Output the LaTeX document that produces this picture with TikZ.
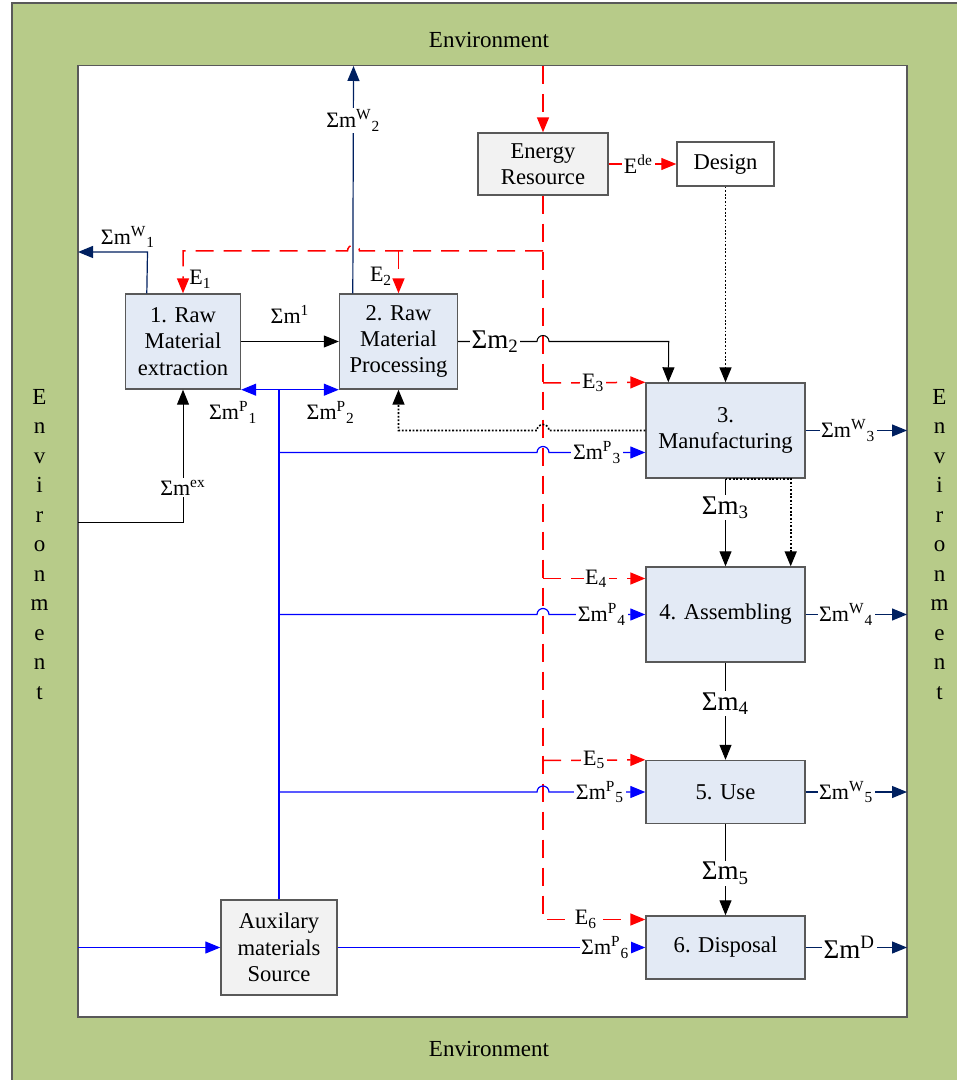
\documentclass[tikz,border=0pt]{standalone}
\usepackage{fontspec}
\setmainfont{Liberation Serif}
\usetikzlibrary{arrows.meta, calc}
\definecolor{envgreen}{HTML}{B7CB89}
\definecolor{procfill}{HTML}{E3EAF5}
\definecolor{resfill}{HTML}{F2F2F2}
\definecolor{boxline}{HTML}{595959}
\definecolor{navy}{HTML}{002060}
\definecolor{auxblue}{HTML}{0000FF}
\definecolor{enred}{HTML}{FF0000}
\tikzset{
  box/.style    ={draw=boxline, line width=0.7pt, fill=procfill, align=center,
                  inner sep=0pt, font=\fontsize{11.3}{13.2}\selectfont},
  resbox/.style ={box, fill=resfill},
  tip/.style    ={-{Triangle[length=7.5pt,width=6pt]}},
  flow/.style   ={tip, draw=black, line width=0.5pt},
  dflow/.style  ={tip, draw=black, line width=0.8pt, dash pattern=on 0.9pt off 0.9pt},
  wflow/.style  ={tip, draw=navy, line width=0.6pt},
  pflow/.style  ={tip, draw=auxblue, line width=0.6pt},
  pmain/.style  ={draw=auxblue, line width=1pt},
  eflow/.style  ={tip, draw=enred, line width=0.75pt, dash pattern=on 9pt off 5pt},
  edflow/.style ={tip, draw=enred, line width=0.6pt},
  lbl/.style    ={fill=white, inner sep=0.8pt, font=\fontsize{11}{12}\selectfont},
  biglbl/.style ={lbl, font=\fontsize{13.5}{15}\selectfont},
  envtxt/.style ={font=\fontsize{11.5}{14.75}\selectfont, align=center, inner sep=0pt}
}

\begin{document}
\begin{tikzpicture}[x=0.5pt, y=-0.5pt]
  \useasboundingbox (0,0) rectangle (957,1080);
  % environment frame
  \filldraw[fill=envgreen, draw=boxline, line width=0.6pt] (12,3) rectangle (970,1090);
  \filldraw[fill=white, draw=boxline, line width=0.7pt] (78,65.5) rectangle (907,1017);
  \node[envtxt] (envtop) at (489,40) {Environment};
  \node[envtxt] (envbot) at (489,1049) {Environment};
  \node[envtxt] (envl) at (39.5,544.5) {E\\n\\v\\i\\r\\o\\n\\m\\e\\n\\t};
  \node[envtxt] (envr) at (939.5,544.5) {E\\n\\v\\i\\r\\o\\n\\m\\e\\n\\t};

  % stages
  \node[box, minimum width=57.5pt, minimum height=47.5pt] (b1) at (183,341.5) {1. Raw\\Material\\extraction};
  \node[box, minimum width=59pt, minimum height=47.5pt] (b2) at (398.5,341.5) {2. Raw\\Material\\Processing};
  \node[box, minimum width=79.5pt, minimum height=47.5pt] (b3) at (725.5,430.5) {3.\\Manufacturing};
  \node[box, minimum width=79.5pt, minimum height=47.5pt] (b4) at (725.5,614.5) {4. Assembling};
  \node[box, minimum width=79.5pt, minimum height=31.5pt] (b5) at (725.5,792) {5. Use};
  \node[box, minimum width=79.5pt, minimum height=31.5pt] (b6) at (725.5,947.5) {6. Disposal};
  \node[resbox, minimum width=65pt, minimum height=31pt] (er) at (543,164) {Energy\\Resource};
  \node[box, fill=white, minimum width=48.5pt, minimum height=22pt] (des) at (725.5,164) {Design};
  \node[resbox, minimum width=58pt, minimum height=47.5pt] (aux) at (279,947.5) {Auxilary\\materials\\Source};

  % energy
  \draw[eflow] (543,66) -- (er.north);
  \draw[eflow] (er.south) -- (543,919.5) -- node[lbl, pos=0.42] {E\textsubscript{6}} ([yshift=14pt]b6.west);
  \draw[eflow] (543,383) -- node[lbl, pos=0.49] {E\textsubscript{3}} (b3.north west);
  \draw[eflow] (543,578.5) -- node[lbl, pos=0.52] {E\textsubscript{4}} ([yshift=18pt]b4.west);
  \draw[eflow] (543,760.5) -- node[lbl, pos=0.5] {E\textsubscript{5}} (b5.north west);
  \draw[eflow] (543,251) -- (359.5,251) arc[start angle=0, end angle=-180, radius=6]
    -- (183,251) -- node[lbl, fill=none, right=2pt, pos=0.67] {E\textsubscript{1}} (b1.north);
  \draw[eflow] (398.5,251) -- node[lbl, fill=none, left=2pt, pos=0.6] {E\textsubscript{2}} (b2.north);
  \draw[edflow] (er.east) -- node[lbl, pos=0.44] {E\textsuperscript{de}} (des.west);
  \draw[dflow] (des.south) -- (b3.north);

  % main mass flow
  \draw[flow] (b1.east) -- node[lbl, fill=none, above=8pt] {Σm\textsuperscript{1}} (b2.west);
  \draw[flow] (b2.east) -- node[biglbl, pos=0.47] {Σm\textsubscript{2}} (537,341.5)
    arc[start angle=180, end angle=360, radius=6] -- (668.75,341.5) -- ([xshift=11.5pt]b3.north west);
  \draw[flow] (b3.south) -- node[biglbl, pos=0.33] {Σm\textsubscript{3}} (b4.north);
  \draw[dflow] (b3.south) -- ([xshift=-7.5pt]b3.south east) -- ([xshift=-7.5pt]b4.north east);
  \draw[flow] (b4.south) -- node[biglbl, pos=0.42] {Σm\textsubscript{4}} (b5.north);
  \draw[flow] (b5.south) -- node[biglbl, pos=0.54] {Σm\textsubscript{5}} (b6.north);
  \draw[dflow] (b3.west) -- (549,430.5) arc[start angle=0, end angle=-180, radius=6]
    -- (398.5,430.5) -- (b2.south);
  \draw[flow] (78,522) -- (183,522) -- node[lbl, pos=0.26] {Σm\textsuperscript{ex}} (b1.south);

  % wastes
  \draw[wflow] ([xshift=11pt]b1.north west) -- (147.5,252)
    -- node[lbl, fill=none, above=1pt, pos=0.28] {Σm\textsuperscript{W}\textsubscript{1}} (78,252);
  \draw[wflow] ([xshift=7pt]b2.north west) -- node[lbl, pos=0.76] {Σm\textsuperscript{W}\textsubscript{2}} (353.5,66);
  \draw[wflow] (b3.east) -- node[lbl, pos=0.42] {Σm\textsuperscript{W}\textsubscript{3}} (907,430.5);
  \draw[wflow] (b4.east) -- node[lbl, pos=0.4] {Σm\textsuperscript{W}\textsubscript{4}} (907,614.5);
  \draw[wflow] (b5.east) -- node[lbl, pos=0.4] {Σm\textsuperscript{W}\textsubscript{5}} (907,792);
  \draw[wflow] (b6.east) -- node[biglbl, pos=0.43] {Σm\textsuperscript{D}} (907,947.5);

  % auxiliary materials
  \draw[pflow] (78,947.5) -- (aux.west);
  \draw[pflow] (aux.east) -- node[lbl, pos=0.87] {Σm\textsuperscript{P}\textsubscript{6}} (b6.west);
  \draw[pmain] (aux.north) -- (279,389);
  \draw[pflow, {Triangle[length=7.5pt,width=6pt]}-{Triangle[length=7.5pt,width=6pt]}]
    (b1.south east) -- node[lbl, fill=none, at start, below=5pt, xshift=-4pt] {Σm\textsuperscript{P}\textsubscript{1}}
    node[lbl, fill=none, at end, below=5pt, xshift=-4pt] {Σm\textsuperscript{P}\textsubscript{2}} (b2.south west);
  \draw[pflow] (279,452.5) -- (537,452.5) arc[start angle=180, end angle=360, radius=6]
    -- node[lbl, pos=0.5] {Σm\textsuperscript{P}\textsubscript{3}} ([yshift=-11pt]b3.west);
  \draw[pflow] (279,614.5) -- (537,614.5) arc[start angle=180, end angle=360, radius=6]
    -- node[lbl, pos=0.55] {Σm\textsuperscript{P}\textsubscript{4}} (b4.west);
  \draw[pflow] (279,792) -- (537,792) arc[start angle=180, end angle=360, radius=6]
    -- node[lbl, pos=0.53] {Σm\textsuperscript{P}\textsubscript{5}} (b5.west);
\end{tikzpicture}
\end{document}
